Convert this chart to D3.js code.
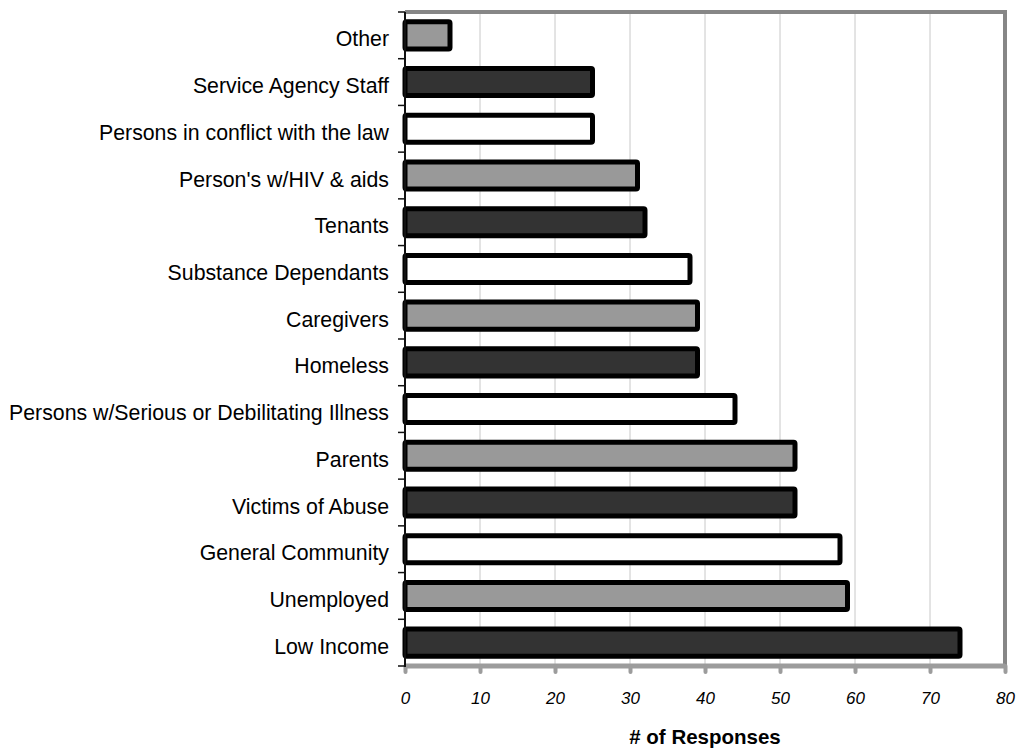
<!DOCTYPE html>
<html>
<head>
<meta charset="utf-8">
<script src="https://cdn.jsdelivr.net/npm/d3@7"></script>
<style>
  html, body { margin: 0; padding: 0; background: #ffffff; }
  svg { display: block; font-family: "Liberation Sans", Arial, Helvetica, sans-serif; }
</style>
</head>
<body>
<svg id="chart" width="1016" height="750"></svg>
<script>
// Client groups served, listed top to bottom
const categories = [
  "Other",
  "Service Agency Staff",
  "Persons in conflict with the law",
  "Person's w/HIV & aids",
  "Tenants",
  "Substance Dependants",
  "Caregivers",
  "Homeless",
  "Persons w/Serious or Debilitating Illness",
  "Parents",
  "Victims of Abuse",
  "General Community",
  "Unemployed",
  "Low Income"
];
const responses = [6, 25, 25, 31, 32, 38, 39, 39, 44, 52, 52, 58, 59, 74];
const xTicks = [0, 10, 20, 30, 40, 50, 60, 70, 80];
const xTitle = "# of Responses";
// Fill cycle counted from the bottom bar upward
const fillCycle = ["#333333", "#999999", "#ffffff"];

const FONT = '"Liberation Sans", Arial, Helvetica, sans-serif';
const data = categories.map((c, i) => ({ name: c, value: responses[i] }));

const svg = d3.select("#chart");
const plot = { left: 405, right: 1005, top: 12, bottom: 666 };

const x = d3.scaleLinear().domain([0, 80]).range([plot.left, plot.right]);
const y = d3.scaleBand()
  .domain(categories)
  .range([plot.top, plot.bottom])
  .paddingInner(0.42)
  .paddingOuter(0.21);

// Vertical gridlines
svg.append("g")
  .selectAll("line")
  .data(xTicks.filter(t => t > 0 && t < 80))
  .join("line")
  .attr("x1", d => x(d)).attr("x2", d => x(d))
  .attr("y1", plot.top).attr("y2", plot.bottom)
  .attr("stroke", "#c8c8c8")
  .attr("stroke-width", 1);

// Plot frame: top and right edges
svg.append("path")
  .attr("d", `M${plot.left},${plot.top}H${plot.right}V${plot.bottom}`)
  .attr("fill", "none")
  .attr("stroke", "#868686")
  .attr("stroke-width", 4);

// Bottom axis with rounded nubs
const xAxis = svg.append("g")
  .attr("transform", `translate(0,${plot.bottom})`)
  .attr("font-family", FONT)
  .call(d3.axisBottom(x).tickValues(xTicks).tickSize(8).tickPadding(20).tickFormat(d3.format("d")));
xAxis.attr("font-family", FONT);
xAxis.select(".domain")
  .attr("stroke", "#9c9c9c")
  .attr("stroke-width", 5)
  .attr("d", `M${plot.left},0H${plot.right}`);
xAxis.selectAll(".tick line")
  .attr("stroke", "#9c9c9c")
  .attr("stroke-width", 4)
  .attr("stroke-linecap", "round")
  .attr("y1", 0).attr("y2", 6);
xAxis.selectAll(".tick text")
  .attr("fill", "#000")
  .attr("font-family", FONT)
  .attr("font-size", 17)
  .attr("font-style", "italic")
  .attr("y", 26)
  .attr("dy", "0.71em");

// Bars
svg.append("g")
  .selectAll("rect")
  .data(data)
  .join("rect")
  .attr("x", x(0))
  .attr("y", d => y(d.name))
  .attr("width", d => x(d.value) - x(0))
  .attr("height", y.bandwidth())
  .attr("rx", 1.5)
  .attr("fill", (d, i) => fillCycle[(categories.length - 1 - i) % 3])
  .attr("stroke", "#000")
  .attr("stroke-width", 5)
  .attr("stroke-linejoin", "round");

// Left axis: category labels and boundary ticks
const step = y.step();
const bandStart = y.range()[0];
const boundaries = d3.range(categories.length + 1).map(i => bandStart + i * step);

const yAxis = svg.append("g").attr("transform", `translate(${plot.left},0)`);
yAxis.append("line")
  .attr("x1", 0).attr("x2", 0)
  .attr("y1", plot.top).attr("y2", plot.bottom + 1)
  .attr("stroke", "#111")
  .attr("stroke-width", 2);
yAxis.selectAll(".btick")
  .data(boundaries)
  .join("line")
  .attr("class", "btick")
  .attr("x1", -7).attr("x2", 0)
  .attr("y1", d => d).attr("y2", d => d)
  .attr("stroke", "#111")
  .attr("stroke-width", 1.5);
yAxis.selectAll(".clabel")
  .data(categories)
  .join("text")
  .attr("class", "clabel")
  .attr("x", -16)
  .attr("y", d => y(d) + y.bandwidth() / 2)
  .attr("dy", "0.52em")
  .attr("text-anchor", "end")
  .attr("font-family", FONT)
  .attr("font-size", 21.3)
  .attr("fill", "#000")
  .text(d => d);

// Axis title
svg.append("text")
  .attr("x", (plot.left + plot.right) / 2)
  .attr("y", 744)
  .attr("text-anchor", "middle")
  .attr("font-family", FONT)
  .attr("font-size", 20.5)
  .attr("font-weight", "bold")
  .attr("fill", "#000")
  .text(xTitle);
</script>
</body>
</html>
